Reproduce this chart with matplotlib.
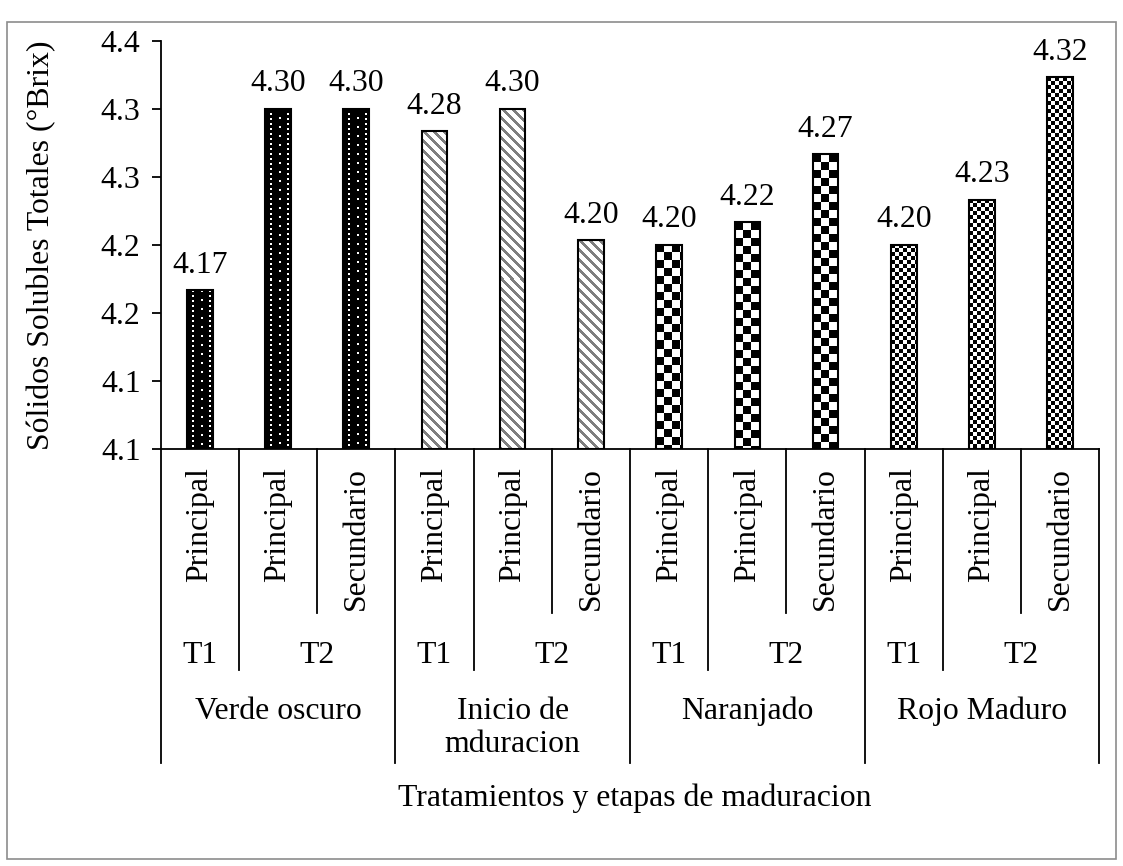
import numpy as np
import matplotlib
matplotlib.use('Agg')
import matplotlib.pyplot as plt
from matplotlib.patches import Rectangle
from matplotlib.lines import Line2D

plt.rcParams['font.family'] = ['Liberation Serif', 'DejaVu Serif']

# datos
etapas = ['Verde oscuro', 'Inicio de\nmduracion', 'Naranjado', 'Rojo Maduro']
tratamientos = ['T1', 'T2']
tallos = ['Principal', 'Principal', 'Secundario'] * 4
valores = [4.1667, 4.30, 4.30,
           4.2833, 4.30, 4.2033,
           4.20, 4.2167, 4.2667,
           4.20, 4.2333, 4.3233]
patrones = ['puntos', 'rayas', 'cuadros', 'cuadritos']
y_ticks = [4.05, 4.10, 4.15, 4.20, 4.25, 4.30, 4.35]
y_tick_labels = ['4.1', '4.1', '4.2', '4.2', '4.3', '4.3', '4.4']

fs = 22.9
W, H = 1123, 866
fig = plt.figure(figsize=(W / 100, H / 100), dpi=100)

# ejes en pixeles (tomados de la referencia)
ax_l, ax_r, ax_t, ax_b = 160.7, 1099.3, 40.7, 449.0
ax = fig.add_axes([ax_l / W, 1 - ax_b / H, (ax_r - ax_l) / W, (ax_b - ax_t) / H])
ymin, ymax = 4.05, 4.35
n = len(valores)
ax.set_xlim(-0.5, n - 0.5)
ax.set_ylim(ymin, ymax)

ancho = 0.327


def patron(tipo, h, w):
    yy, xx = np.mgrid[0:h, 0:w]
    img = np.ones((h, w, 3))
    if tipo == 'puntos':
        img[:] = 0.0
        for cx, paso in ((5, 5), (14, 9), (22, 5)):
            m = ((xx == cx) | (xx == cx + 1)) & ((yy % paso) < 2)
            img[m] = 1.0
    elif tipo == 'rayas':
        img[((xx - yy) % 10) < 4] = 0.5
    elif tipo == 'cuadros':
        img[((xx // 8) + (yy // 8)) % 2 == 0] = 0.0
    elif tipo == 'cuadritos':
        img[((xx // 4) + (yy // 4)) % 2 == 0] = 0.0
    return img


x = np.arange(n)
for i, v in enumerate(valores):
    x0, x1 = x[i] - ancho / 2, x[i] + ancho / 2
    p0, p1 = ax.transData.transform([(x0, ymin), (x1, v)])
    wpx = max(int(round(p1[0] - p0[0])), 1)
    hpx = max(int(round(p1[1] - p0[1])), 1)
    ax.imshow(patron(patrones[i // 3], hpx, wpx), extent=(x0, x1, ymin, v),
              origin='upper', interpolation='nearest', aspect='auto', zorder=2)

barras = ax.bar(x, np.array(valores) - ymin, bottom=ymin, width=ancho,
                fill=False, edgecolor='black', linewidth=1.5, zorder=3)

for i, v in enumerate(valores):
    ax.annotate(f'{v:.2f}', (x[i], v), xytext=(0, 12.5), textcoords='offset points',
                ha='center', va='baseline', fontsize=fs)

ax.set_xlim(-0.5, n - 0.5)
ax.set_ylim(ymin, ymax)

for s in ['top', 'right']:
    ax.spines[s].set_visible(False)
ax.spines['left'].set_linewidth(1.3)
ax.spines['bottom'].set_linewidth(1.3)
ax.set_yticks(y_ticks)
ax.set_yticklabels(y_tick_labels)
ax.tick_params(axis='y', direction='out', length=6.5, width=1.3, pad=8, labelsize=fs)
ax.set_xticks([])


def ay(py):
    return (ax_b - py) / (ax_b - ax_t)


tr = ax.get_xaxis_transform()
niveles = [(ay(613), [1.5, 4.5, 7.5, 10.5]),
           (ay(670), [0.5, 3.5, 6.5, 9.5]),
           (ay(763), [-0.5, 2.5, 5.5, 8.5, 11.5])]
for yb, xs in niveles:
    for xs_ in xs:
        ax.add_line(Line2D([xs_, xs_], [0, yb], transform=tr, color='black',
                           lw=1.3, clip_on=False))

for i, t in enumerate(tallos):
    ax.text(x[i], ay(467), t, transform=tr, rotation=90, ha='center', va='top',
            fontsize=fs)

for g, et in enumerate(etapas):
    ax.text(3 * g, ay(663), tratamientos[0], transform=tr, ha='center',
            va='baseline', fontsize=fs)
    ax.text(3 * g + 1.5, ay(663), tratamientos[1], transform=tr, ha='center',
            va='baseline', fontsize=fs)
    ax.text(3 * g + 1, ay(697), et, transform=tr, ha='center', va='top',
            multialignment='center', linespacing=1.2, fontsize=fs)

fig.text(635 / W, 1 - 806 / H, 'Tratamientos y etapas de maduracion',
         ha='center', va='baseline', fontsize=fs)
fig.text(42 / W, 1 - 245 / H, 'Sólidos Solubles Totales (°Brix)', rotation=90,
         ha='center', va='center', fontsize=fs)

fig.patches.append(Rectangle((7 / W, 1 - 859 / H), (1116 - 7) / W, (859 - 22) / H,
                             transform=fig.transFigure, fill=False,
                             edgecolor='#8c8c8c', linewidth=1.2))

fig.savefig('out.png', dpi=100)
